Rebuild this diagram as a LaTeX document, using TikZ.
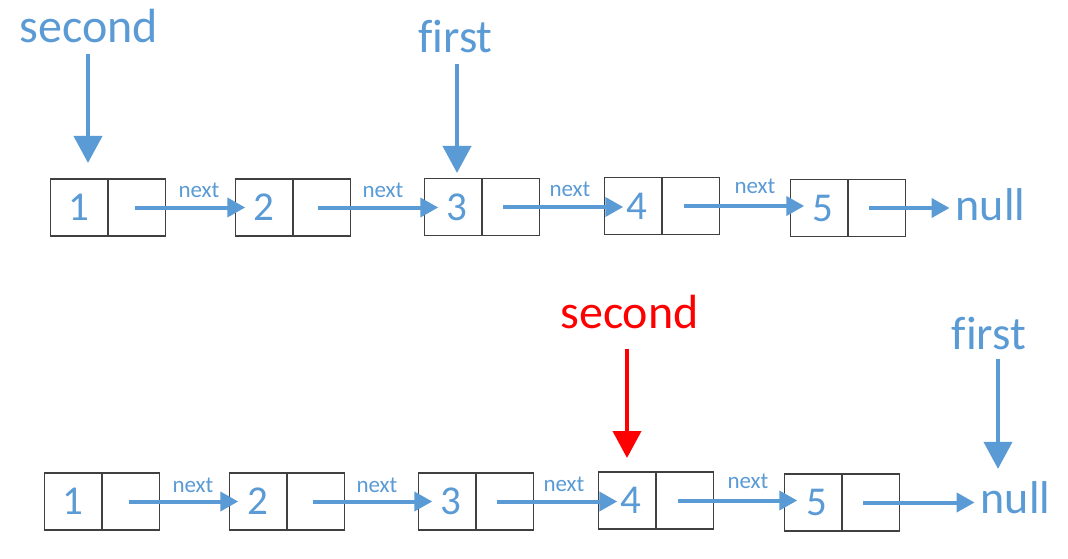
\documentclass[tikz,border=0pt]{standalone}
\usepackage{fontspec}
\setmainfont[Ligatures=NoCommon]{Carlito}
\usetikzlibrary{arrows.meta,calc}
\definecolor{lblue}{RGB}{91,155,213}
\definecolor{boxgray}{RGB}{64,64,64}
\newcommand{\rdigit}[1]{\kern8pt #1}
\begin{document}
\begin{tikzpicture}[x=1pt,y=-1pt,
  cell/.style={draw=boxgray, line width=1.5pt, minimum width=57.5pt, minimum height=57pt,
    inner sep=0pt, outer sep=0pt, text=lblue, font=\fontsize{41}{41}\selectfont},
  link/.style={draw=lblue, line width=4pt, -{Triangle[length=18pt,width=19pt]}},
  ptr/.style={draw=lblue, line width=4pt, -{Triangle[length=27pt,width=28pt]}},
  redptr/.style={ptr, draw=red},
  lbl/.style={text=lblue, inner sep=0pt, anchor=base, font=\fontsize{47}{47}\selectfont},
  nextlbl/.style={text=lblue, inner sep=0pt, anchor=base, font=\fontsize{23}{23}\selectfont},
]
\useasboundingbox[fill=white] (0,0) rectangle (1068,559);

% ---------- top row ----------
\node[cell] (ta1) at (79,207.5) {1};
\node[cell, anchor=west] (tb1) at (ta1.east) {};
\node[cell] (ta2) at (264,207.5) {2};
\node[cell, anchor=west] (tb2) at (ta2.east) {};
\node[cell] (ta3) at (453,207) {\rdigit{3}};
\node[cell, anchor=west] (tb3) at (ta3.east) {};
\node[cell] (ta4) at (633,206) {\rdigit{4}};
\node[cell, anchor=west] (tb4) at (ta4.east) {};
\node[cell] (ta5) at (819,208) {\rdigit{5}};
\node[cell, anchor=west] (tb5) at (ta5.east) {};
\node[lbl, font=\fontsize{46}{46}\selectfont] (tnull) at (990.5,220) {null};

\node[lbl, font=\fontsize{48}{48}\selectfont] (tsec) at (89,43) {second};
\node[lbl] (tfst) at (455.5,53) {first};

\draw[link] ($(tb1.center)+(-2,0)$) -- ($(ta2.west |- tb1.center)+(10,0)$);
\draw[link] ($(tb2.center)+(-3.5,0)$) -- ($(ta3.west |- tb2.center)+(14,0)$);
\draw[link] ($(tb3.center)+(-7.5,0)$) -- ($(ta4.west |- tb3.center)+(19,0)$);
\draw[link] ($(tb4.center)+(-6.5,0)$) -- ($(ta5.west |- tb4.center)+(14,0)$);
\draw[link] ($(tb5.center)+(-7.5,0)$) -- ($(tb5.center -| tnull.west)+(-6,0)$);

\node[nextlbl] (tn1) at (199,197) {next};
\node[nextlbl] (tn2) at (383,197) {next};
\node[nextlbl] (tn3) at (570,196) {next};
\node[nextlbl] (tn4) at (755,193) {next};

\draw[ptr] ($(tsec.south)+(-1,10)$) -- ($(tsec.south |- ta1.north)+(-1,-16)$);
\draw[ptr] ($(tfst.south)+(1.5,10)$) -- ($(tfst.south |- ta3.north)+(1.5,-5.5)$);

% ---------- bottom row ----------
\node[cell] (ba1) at (73,501.5) {1};
\node[cell, anchor=west] (bb1) at (ba1.east) {};
\node[cell] (ba2) at (258,501.5) {2};
\node[cell, anchor=west] (bb2) at (ba2.east) {};
\node[cell] (ba3) at (447,501.5) {\rdigit{3}};
\node[cell, anchor=west] (bb3) at (ba3.east) {};
\node[cell] (ba4) at (627,500.5) {\rdigit{4}};
\node[cell, anchor=west] (bb4) at (ba4.east) {};
\node[cell] (ba5) at (813,502.5) {\rdigit{5}};
\node[cell, anchor=west] (bb5) at (ba5.east) {};
\node[lbl, font=\fontsize{46}{46}\selectfont] (bnull) at (1015.5,513) {null};

\node[lbl, text=red, font=\fontsize{48}{48}\selectfont] (bsec) at (629.5,328) {second};
\node[lbl] (bfst) at (989,349) {first};

\draw[link] ($(bb1.center)+(-1.5,0)$) -- ($(ba2.west |- bb1.center)+(9,0)$);
\draw[link] ($(bb2.center)+(-2.5,0)$) -- ($(ba3.west |- bb2.center)+(14,0)$);
\draw[link] ($(bb3.center)+(-7.5,0)$) -- ($(ba4.west |- bb3.center)+(19,0)$);
\draw[link] ($(bb4.center)+(-6.5,0)$) -- ($(ba5.west |- bb4.center)+(13,0)$);
\draw[link] ($(bb5.center)+(-7.5,0)$) -- ($(bb5.center -| bnull.west)+(-6,0)$);

\node[nextlbl] (bn1) at (193,492) {next};
\node[nextlbl] (bn2) at (377,492) {next};
\node[nextlbl] (bn3) at (564,491) {next};
\node[nextlbl] (bn4) at (748,488) {next};

\draw[redptr] ($(bsec.south)+(-2.5,20)$) -- ($(bsec.south |- ba4.north)+(-2.5,-14)$);
\draw[ptr] ($(bfst.south)+(9,9)$) -- ($(bfst.south |- bnull.north)+(9,-12)$);
\end{tikzpicture}
\end{document}
